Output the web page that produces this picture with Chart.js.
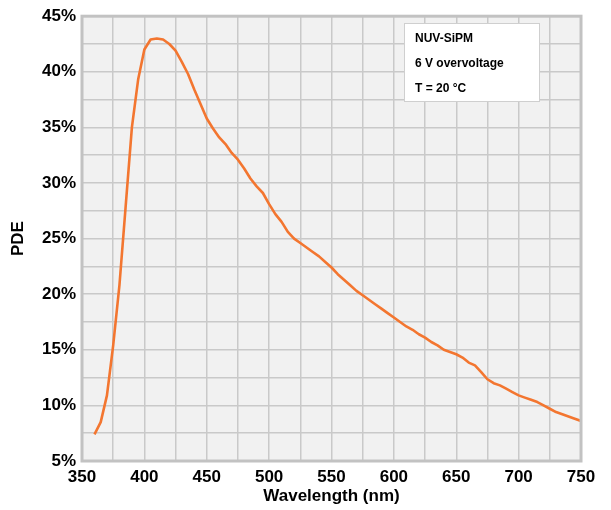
<!DOCTYPE html>
<html><head><meta charset="utf-8">
<script src="https://cdn.jsdelivr.net/npm/chart.js@4/dist/chart.umd.min.js"></script>
<style>html,body{margin:0;padding:0;background:#fff}#wrap{width:611px;height:510px}</style>
</head><body><div id="wrap"><canvas id="c" width="611" height="510"></canvas></div>
<script>
const wavelengths = [360,365,370,375,380,385,390,395,400,405,410,415,420,425,430,435,440,445,450,455,460,465,470,475,480,485,490,495,500,505,510,515,520,525,530,535,540,545,550,555,560,565,570,575,580,585,590,595,600,605,610,615,620,625,630,635,640,645,650,655,660,665,670,675,680,685,690,695,700,705,710,715,720,725,730,735,740,745,750];
const pdeValues = [7.4,8.5,10.9,15.4,20.8,27.9,35.0,39.3,42.0,42.9,43.0,42.9,42.5,41.9,40.9,39.8,38.4,37.1,35.8,34.9,34.1,33.5,32.7,32.1,31.3,30.4,29.7,29.1,28.1,27.2,26.5,25.6,25.0,24.6,24.2,23.8,23.4,22.9,22.4,21.8,21.3,20.8,20.3,19.9,19.5,19.1,18.7,18.3,17.9,17.5,17.1,16.8,16.4,16.1,15.7,15.4,15.0,14.8,14.6,14.3,13.85,13.6,13.0,12.35,12.0,11.8,11.5,11.2,10.9,10.7,10.5,10.3,10.0,9.7,9.4,9.2,9.0,8.8,8.6];
const xTicks = [350,375,400,425,450,475,500,525,550,575,600,625,650,675,700,725,750];
const yTicks = [5,7.5,10,12.5,15,17.5,20,22.5,25,27.5,30,32.5,35,37.5,40,42.5,45];
const xLabelStep = 50;
const yLabelStep = 5;
const annotationLines = ['NUV-SiPM','6 V overvoltage','T = 20 °C'];
const xTitle = 'Wavelength (nm)';
const yTitle = 'PDE';

const FONT = '"Liberation Sans", Arial, sans-serif';
Chart.defaults.font.family = FONT;
Chart.defaults.color = '#000';

const frame = {
  id: 'frame',
  beforeDraw(chart) {
    const {ctx, chartArea: a} = chart;
    ctx.save();
    ctx.fillStyle = '#fff';
    ctx.fillRect(0, 0, chart.width, chart.height);
    ctx.fillStyle = '#f1f1f1';
    ctx.fillRect(a.left, a.top, a.right - a.left, a.bottom - a.top);
    ctx.restore();
  },
  afterDraw(chart) {
    const {ctx, chartArea: a} = chart;
    ctx.save();
    ctx.strokeStyle = '#c2c2c2';
    ctx.lineWidth = 3;
    ctx.strokeRect(a.left, a.top, a.right - a.left, a.bottom - a.top);
    const bx = 404, by = 23, bw = 135, bh = 78;
    ctx.fillStyle = '#fff';
    ctx.fillRect(bx, by, bw, bh);
    ctx.strokeStyle = '#cfcfcf';
    ctx.lineWidth = 1;
    ctx.strokeRect(bx + 0.5, by + 0.5, bw, bh);
    ctx.fillStyle = '#000';
    ctx.font = 'bold 12px ' + FONT;
    ctx.textBaseline = 'middle';
    ctx.textAlign = 'left';
    const ys = [39, 64, 89];
    annotationLines.forEach((t, i) => ctx.fillText(t, 415, ys[i]));
    ctx.restore();
  }
};

new Chart(document.getElementById('c'), {
  type: 'line',
  data: {
    datasets: [{
      data: wavelengths.map((x, i) => ({x, y: pdeValues[i]})),
      borderColor: '#f37630',
      borderWidth: 2.6,
      pointRadius: 0,
      fill: false,
      tension: 0,
      borderJoinStyle: 'round'
    }]
  },
  options: {
    responsive: false,
    animation: false,
    devicePixelRatio: 1,
    layout: {padding: {left: 0, right: 30, top: 14, bottom: 0}},
    plugins: {legend: {display: false}, tooltip: {enabled: false}},
    scales: {
      x: {
        type: 'linear', min: 350, max: 750,
        afterBuildTicks: s => { s.ticks = xTicks.map(v => ({value: v})); },
        afterFit: s => { s.height = 49; },
        grid: {color: '#c9c9c9', lineWidth: 1.5, drawTicks: false},
        border: {display: false},
        title: {display: true, text: xTitle, font: {size: 17, weight: 'bold'}, padding: {top: 0, bottom: 3}},
        ticks: {
          autoSkip: false, maxRotation: 0, padding: 6,
          font: {size: 17, weight: 'bold'},
          callback: v => (v % xLabelStep === 0 ? String(v) : '')
        }
      },
      y: {
        type: 'linear', min: 5, max: 45,
        afterBuildTicks: s => { s.ticks = yTicks.map(v => ({value: v})); },
        afterFit: s => { s.width = 82; },
        grid: {color: '#c9c9c9', lineWidth: 1.5, drawTicks: false},
        border: {display: false},
        title: {display: true, text: yTitle, font: {size: 17, weight: 'bold'}, padding: {top: 8, bottom: 0}},
        ticks: {
          autoSkip: false, padding: 6,
          font: {size: 17, weight: 'bold'},
          callback: v => (v % yLabelStep === 0 ? v + '%' : '')
        }
      }
    }
  },
  plugins: [frame]
});
</script></body></html>
